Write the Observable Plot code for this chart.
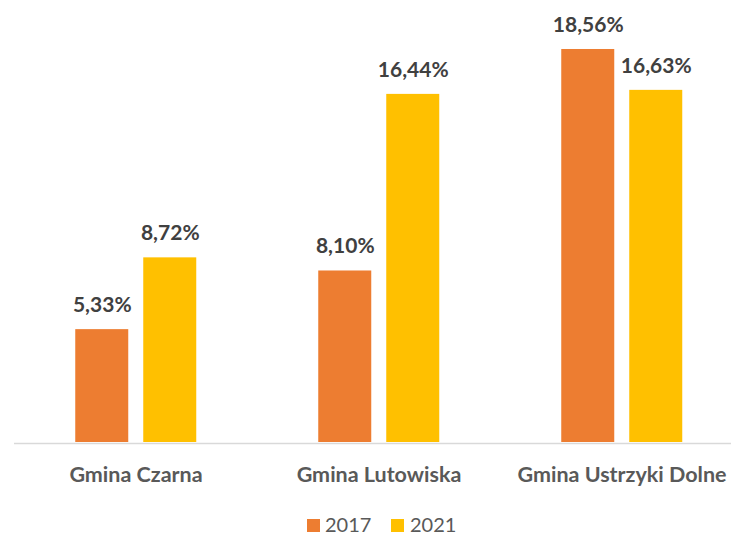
<!DOCTYPE html>
<html>
<head>
<meta charset="utf-8">
<script src="https://cdn.jsdelivr.net/npm/d3@7"></script>
<script src="https://cdn.jsdelivr.net/npm/@observablehq/plot@0.6"></script>
<style>
  html, body { margin: 0; padding: 0; background: #fff; overflow: hidden; }
  #wrap { position: relative; width: 731px; height: 536px; overflow: hidden; font-family: Lato, "Open Sans", sans-serif; }
  .sw { position: absolute; width: 13px; height: 13px; }
  .lt { position: absolute; font-size: 20px; line-height: 16px; color: #595959; font-family: Lato, sans-serif; }
</style>
</head>
<body>
<div id="wrap"></div>
<script>
const categories = ["Gmina Czarna", "Gmina Lutowiska", "Gmina Ustrzyki Dolne"];
const years = ["2017", "2021"];
const values2017 = [5.33, 8.10, 18.56];
const values2021 = [8.72, 16.44, 16.63];
const colors = ["#ED7D31", "#FFC000"];

const data = [];
categories.forEach((c, i) => {
  data.push({cat: c, year: years[0], value: values2017[i]});
  data.push({cat: c, year: years[1], value: values2021[i]});
});
const fmt = v => v.toFixed(2).replace(".", ",") + "%";

const chart = Plot.plot({
  width: 731,
  height: 492,
  marginLeft: 12.75,
  marginRight: -13,
  marginTop: 18.5,
  marginBottom: 50,
  style: {fontFamily: "Lato, sans-serif", background: "transparent"},
  fx: {domain: categories, padding: 0, label: null},
  x: {domain: years, paddingInner: 0.217, paddingOuter: 0.873, axis: null},
  y: {domain: [0, 20], axis: null},
  color: {domain: years, range: colors},
  marks: [
    Plot.ruleY([0], {stroke: "#D9D9D9", strokeWidth: 1.5, dy: 1}),
    Plot.barY(data, {fx: "cat", x: "year", y: "value", fill: "year"}),
    Plot.text(data, {fx: "cat", x: "year", y: "value", text: d => fmt(d.value),
      lineAnchor: "bottom", dy: -17.5, fontSize: 21, fontWeight: "bold", fill: "#404040"}),
    Plot.axisFx({anchor: "bottom", tickSize: 0, tickPadding: 24.4, fontSize: 21.5,
      fontWeight: "bold", fill: "#595959", label: null})
  ]
});
chart.style.maxWidth = "none";
chart.style.overflow = "hidden";
const wrap = document.getElementById("wrap");
wrap.appendChild(chart);

const legendItems = [
  {year: years[0], color: colors[0], sx: 307, tx: 325},
  {year: years[1], color: colors[1], sx: 391, tx: 410}
];
legendItems.forEach(it => {
  const s = document.createElement("div");
  s.className = "sw";
  s.style.left = it.sx + "px";
  s.style.top = "518.5px";
  s.style.background = it.color;
  wrap.appendChild(s);
  const t = document.createElement("div");
  t.className = "lt";
  t.style.left = it.tx + "px";
  t.style.top = "515.6px";
  t.textContent = it.year;
  wrap.appendChild(t);
});
</script>
</body>
</html>
